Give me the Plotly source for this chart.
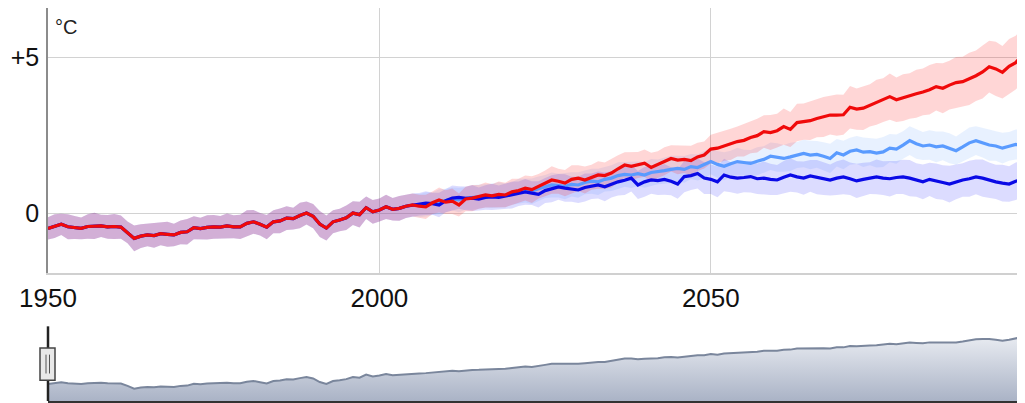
import plotly.graph_objects as go

# ---------------- data ----------------
hist_years = list(range(1950, 2006))
hist_vals = [-0.49, -0.42, -0.36, -0.44, -0.46, -0.49, -0.43, -0.41, -0.41, -0.44,
             -0.43, -0.45, -0.62, -0.81, -0.74, -0.70, -0.72, -0.66, -0.68, -0.70,
             -0.62, -0.60, -0.47, -0.50, -0.46, -0.44, -0.45, -0.41, -0.44, -0.44,
             -0.33, -0.28, -0.36, -0.45, -0.28, -0.25, -0.16, -0.18, -0.08, 0.00,
             -0.10, -0.35, -0.48, -0.28, -0.22, -0.15, 0.00, -0.05, 0.17, 0.04,
             0.10, 0.20, 0.12, 0.15, 0.22, 0.26]
hist_spread = [0.36, 0.38, 0.34, 0.40, 0.37, 0.35, 0.39, 0.42, 0.36, 0.38,
               0.40, 0.37, 0.35, 0.41, 0.38, 0.36, 0.39, 0.37, 0.40, 0.36,
               0.38, 0.41, 0.37, 0.35, 0.39, 0.38, 0.36, 0.40, 0.37, 0.39,
               0.42, 0.38, 0.36, 0.39, 0.37, 0.40, 0.38, 0.35, 0.41, 0.37,
               0.39, 0.42, 0.40, 0.37, 0.36, 0.39, 0.38, 0.41, 0.36, 0.38,
               0.37, 0.39, 0.36, 0.40, 0.38, 0.37]

scen_years = list(range(2006, 2098))
rcp85 = [0.22, 0.20, 0.33, 0.42, 0.35, 0.38, 0.26, 0.45, 0.48, 0.52,
         0.58, 0.55, 0.60, 0.58, 0.68, 0.72, 0.80, 0.75, 0.86, 0.95,
         1.06, 1.02, 0.96, 1.08, 1.12, 1.06, 1.15, 1.22, 1.20, 1.28,
         1.42, 1.54, 1.50, 1.54, 1.60, 1.46, 1.55, 1.66, 1.75, 1.70,
         1.72, 1.68, 1.80, 1.86, 2.05, 2.08, 2.15, 2.20, 2.29, 2.33,
         2.42, 2.48, 2.61, 2.58, 2.64, 2.77, 2.68, 2.90, 2.93, 2.96,
         3.03, 3.08, 3.14, 3.14, 3.15, 3.39, 3.33, 3.36, 3.45, 3.55,
         3.62, 3.73, 3.63, 3.70, 3.75, 3.82, 3.88, 3.95, 4.05, 4.00,
         4.10, 4.18, 4.21, 4.30, 4.40, 4.52, 4.69, 4.62, 4.51, 4.70,
         4.82, 5.06]
rcp45 = [0.24, 0.28, 0.30, 0.36, 0.40, 0.45, 0.42, 0.47, 0.50, 0.52,
         0.55, 0.56, 0.58, 0.57, 0.63, 0.70, 0.72, 0.70, 0.78, 0.85,
         0.90, 0.88, 0.86, 0.92, 0.90, 0.98, 1.02, 1.00, 1.08, 1.12,
         1.20, 1.24, 1.22, 1.26, 1.22, 1.30, 1.32, 1.36, 1.40, 1.43,
         1.40, 1.49, 1.46, 1.55, 1.65, 1.56, 1.50, 1.58, 1.65, 1.62,
         1.59, 1.66, 1.72, 1.82, 1.78, 1.75, 1.80, 1.86, 1.91, 1.86,
         1.88, 1.82, 1.75, 1.93, 1.86, 1.98, 2.02, 1.95, 1.97, 1.92,
         1.96, 2.08, 2.05, 2.18, 2.32, 2.22, 2.15, 2.18, 2.12, 2.15,
         2.08, 2.00, 2.12, 2.25, 2.32, 2.26, 2.18, 2.15, 2.08, 2.14,
         2.20, 2.18]
rcp26 = [0.28, 0.32, 0.30, 0.26, 0.40, 0.48, 0.50, 0.47, 0.48, 0.45,
         0.50, 0.52, 0.50, 0.54, 0.58, 0.62, 0.68, 0.64, 0.60, 0.72,
         0.78, 0.84, 0.80, 0.76, 0.74, 0.82, 0.86, 0.90, 0.84, 0.92,
         1.00, 1.05, 1.12, 0.90, 1.00, 1.06, 1.04, 1.08, 1.02, 0.93,
         1.17, 1.20, 1.27, 1.12, 1.08, 1.00, 1.22, 1.15, 1.12, 1.14,
         1.17, 1.10, 1.12, 1.08, 1.06, 1.15, 1.22, 1.16, 1.12, 1.19,
         1.15, 1.10, 1.06, 1.12, 1.16, 1.10, 1.03, 1.08, 1.12, 1.16,
         1.12, 1.10, 1.14, 1.16, 1.12, 1.06, 1.00, 1.08, 1.02, 0.98,
         0.93, 1.00, 1.06, 1.10, 1.16, 1.12, 1.05, 1.00, 0.96, 0.93,
         1.02, 1.08]

spread85 = [0.37, 0.39, 0.36, 0.40, 0.38, 0.41, 0.37, 0.39, 0.42, 0.38,
            0.40, 0.37, 0.41, 0.39, 0.42, 0.38, 0.40, 0.43, 0.39, 0.41,
            0.44, 0.40, 0.42, 0.45, 0.41, 0.43, 0.40, 0.44, 0.42, 0.46,
            0.43, 0.41, 0.45, 0.42, 0.44, 0.47, 0.43, 0.45, 0.42, 0.46,
            0.44, 0.48, 0.45, 0.43, 0.46, 0.49, 0.47, 0.50, 0.48, 0.52,
            0.50, 0.54, 0.52, 0.56, 0.54, 0.58, 0.56, 0.60, 0.58, 0.62,
            0.60, 0.64, 0.62, 0.66, 0.64, 0.68, 0.66, 0.70, 0.68, 0.72,
            0.70, 0.74, 0.71, 0.75, 0.73, 0.77, 0.75, 0.79, 0.76, 0.80,
            0.78, 0.82, 0.80, 0.84, 0.81, 0.85, 0.83, 0.87, 0.84, 0.88,
            0.86, 0.88]
spread45 = [0.37, 0.39, 0.36, 0.40, 0.38, 0.37, 0.39, 0.36, 0.40, 0.38,
            0.37, 0.39, 0.41, 0.38, 0.36, 0.40, 0.38, 0.41, 0.39, 0.37,
            0.40, 0.38, 0.42, 0.39, 0.41, 0.38, 0.40, 0.42, 0.39, 0.41,
            0.43, 0.40, 0.42, 0.39, 0.41, 0.43, 0.40, 0.42, 0.44, 0.41,
            0.43, 0.40, 0.42, 0.44, 0.41, 0.43, 0.45, 0.42, 0.44, 0.41,
            0.43, 0.45, 0.42, 0.44, 0.46, 0.43, 0.45, 0.42, 0.44, 0.46,
            0.43, 0.45, 0.47, 0.44, 0.46, 0.43, 0.45, 0.47, 0.44, 0.46,
            0.48, 0.45, 0.47, 0.44, 0.46, 0.48, 0.45, 0.47, 0.49, 0.46,
            0.48, 0.45, 0.47, 0.49, 0.46, 0.48, 0.50, 0.47, 0.49, 0.46,
            0.48, 0.50]
spread26 = [0.36, 0.38, 0.35, 0.39, 0.37, 0.40, 0.36, 0.38, 0.41, 0.37,
            0.39, 0.42, 0.38, 0.40, 0.43, 0.39, 0.41, 0.38, 0.42, 0.40,
            0.43, 0.41, 0.44, 0.40, 0.42, 0.45, 0.41, 0.43, 0.46, 0.42,
            0.44, 0.47, 0.43, 0.45, 0.48, 0.44, 0.46, 0.49, 0.45, 0.47,
            0.50, 0.46, 0.48, 0.51, 0.47, 0.49, 0.52, 0.48, 0.50, 0.47,
            0.51, 0.49, 0.53, 0.50, 0.48, 0.52, 0.54, 0.50, 0.53, 0.51,
            0.55, 0.52, 0.50, 0.54, 0.56, 0.52, 0.55, 0.53, 0.51, 0.56,
            0.54, 0.57, 0.53, 0.55, 0.58, 0.54, 0.56, 0.53, 0.57, 0.55,
            0.59, 0.56, 0.54, 0.58, 0.56, 0.60, 0.57, 0.55, 0.59, 0.57,
            0.60, 0.58]

x_tick_vals = [1950, 2000, 2050]
x_tick_text = ["1950", "2000", "2050"]
y_tick_vals = [0, 5]
y_tick_text = ["0", "+5"]
unit_label = "°C"

# ---------------- build ----------------
years = hist_years + scen_years
scenarios = [
    ("RCP4.5", rcp45, spread45, "#5a9bff", "rgba(110,170,255,0.16)"),
    ("RCP2.6", rcp26, spread26, "#0a0ae6", "rgba(40,40,255,0.16)"),
    ("RCP8.5", rcp85, spread85, "#f00a0a", "rgba(255,30,30,0.18)"),
]

fig = go.Figure()

for name, vals, spr, lc, fc in scenarios:
    v = hist_vals + vals
    s = hist_spread + spr
    up = [a + b for a, b in zip(v, s)]
    lo = [a - b for a, b in zip(v, s)]
    fig.add_trace(go.Scatter(x=years, y=up, mode="lines", line=dict(width=0),
                             hoverinfo="skip", showlegend=False))
    fig.add_trace(go.Scatter(x=years, y=lo, mode="lines", line=dict(width=0),
                             fill="tonexty", fillcolor=fc, hoverinfo="skip",
                             showlegend=False))

for name, vals, spr, lc, fc in scenarios:
    fig.add_trace(go.Scatter(x=years, y=hist_vals + vals, mode="lines", name=name,
                             line=dict(color=lc, width=3.2), showlegend=False))

# navigator (mean of the scenarios)
nav_vals = [(a + b + c) / 3 for a, b, c in zip(hist_vals + rcp85, hist_vals + rcp45, hist_vals + rcp26)]
nav_bottom = -1.67
fig.add_trace(go.Scatter(x=years, y=[nav_bottom] * len(years), mode="lines",
                         line=dict(width=0), xaxis="x2", yaxis="y2",
                         hoverinfo="skip", showlegend=False))
fig.add_trace(go.Scatter(x=years, y=nav_vals, mode="lines", xaxis="x2", yaxis="y2",
                         line=dict(color="#7a869c", width=2), fill="tonexty",
                         fillgradient=dict(type="vertical",
                                           colorscale=[[0, "#aab3c6"], [1, "#e8ebf1"]]),
                         showlegend=False))

x_range = [1950, 2097.4]
font_family = "Liberation Sans, Arial, sans-serif"

# the page body adds an 8px offset; size the figure to fill the 1025x403 window
fig.update_layout(
    width=1017, height=395,
    margin=dict(l=40, r=0, t=0, b=2, autoexpand=False),
    plot_bgcolor="white", paper_bgcolor="white",
    font=dict(family=font_family, color="#222"),
    xaxis=dict(range=x_range, domain=[0, 1], tickvals=x_tick_vals, ticktext=x_tick_text,
               showgrid=True, gridcolor="#d2d2d2", gridwidth=1,
               showline=True, linecolor="#d0d0d0", linewidth=1.5,
               zeroline=False, ticks="", tickfont=dict(size=26, color="#111"),
               ticklabelstandoff=1, anchor="y", automargin=False),
    yaxis=dict(range=[-1.92, 6.57], domain=[0.3257, 1], tickvals=y_tick_vals,
               ticktext=y_tick_text, showgrid=True, gridcolor="#d2d2d2", gridwidth=1,
               showline=True, linecolor="#8c8c8c", linewidth=1.5, zeroline=False,
               ticks="", tickfont=dict(size=25, color="#111"), ticklabelstandoff=2,
               automargin=False),
    xaxis2=dict(range=x_range, domain=[0, 1], anchor="y2", showticklabels=False,
                showgrid=False, zeroline=False, showline=True, linecolor="#333",
                linewidth=2.5, ticks="", automargin=False),
    yaxis2=dict(range=[nav_bottom, 3.54], domain=[0, 0.1908], showticklabels=False,
                showgrid=False, zeroline=False, showline=False, ticks="",
                automargin=False),
    annotations=[dict(text=unit_label, xref="x domain", yref="y domain", x=0, y=1,
                      xanchor="left", yanchor="top", xshift=5, yshift=-6,
                      showarrow=False, font=dict(size=20, color="#222"))],
    shapes=[
        dict(type="line", xref="paper", yref="paper", x0=0, x1=0,
             y0=0, y1=0.19, line=dict(color="#222", width=2.5)),
        dict(type="rect", xref="paper", yref="paper", xsizemode="pixel", xanchor=0,
             x0=-8, x1=7, y0=0.053, y1=0.135, line=dict(color="#444", width=1.5),
             fillcolor="#e8e8e8"),
        dict(type="line", xref="paper", yref="paper", xsizemode="pixel", xanchor=0,
             x0=-2, x1=-2, y0=0.07, y1=0.118, line=dict(color="#555", width=1)),
        dict(type="line", xref="paper", yref="paper", xsizemode="pixel", xanchor=0,
             x0=1.5, x1=1.5, y0=0.07, y1=0.118, line=dict(color="#555", width=1)),
    ],
)

fig.write_html("out.html")
